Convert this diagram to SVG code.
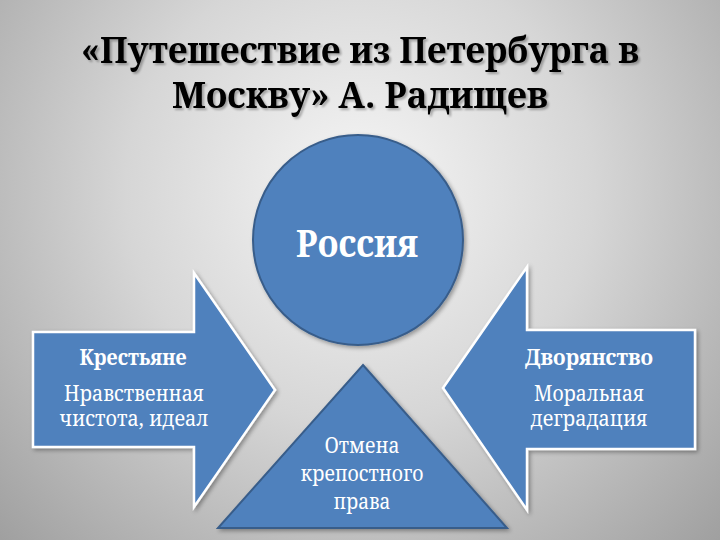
<svg xmlns="http://www.w3.org/2000/svg" width="720" height="540" viewBox="0 0 720 540">
<defs>
<radialGradient id="bg" cx="360" cy="190" r="520" gradientUnits="userSpaceOnUse">
<stop offset="0" stop-color="#f6f6f6"/>
<stop offset="0.45" stop-color="#d6d6d6"/>
<stop offset="1" stop-color="#9c9c9c"/>
</radialGradient>
<filter id="sh" x="-10%" y="-10%" width="130%" height="130%">
<feGaussianBlur in="SourceAlpha" stdDeviation="2"/>
<feOffset dx="2" dy="2"/>
<feComponentTransfer><feFuncA type="linear" slope="0.35"/></feComponentTransfer>
<feMerge><feMergeNode/><feMergeNode in="SourceGraphic"/></feMerge>
</filter>
<filter id="tsh" x="-5%" y="-20%" width="110%" height="140%">
<feGaussianBlur in="SourceAlpha" stdDeviation="1"/>
<feOffset dx="2" dy="2"/>
<feComponentTransfer><feFuncA type="linear" slope="0.3"/></feComponentTransfer>
<feMerge><feMergeNode/><feMergeNode in="SourceGraphic"/></feMerge>
</filter>
</defs>
<style>
.arrow{fill:#4f81bd;stroke:#ffffff;stroke-width:2.5;stroke-linejoin:miter}
.dark{fill:#4f81bd;stroke:#385d8a;stroke-width:2}
.t{fill:#ffffff;text-anchor:middle}
.title{font-weight:bold;font-size:36px;fill:#000000;text-anchor:middle}
.b{font-weight:bold;font-size:21px}
.r{font-size:21px}
</style>
<rect width="720" height="540" fill="url(#bg)"/>
<g id="title" filter="url(#tsh)" font-family="Noto Serif, Liberation Serif, DejaVu Serif, serif">
<text class="title" x="360" y="63" textLength="558" lengthAdjust="spacingAndGlyphs">«Путешествие из Петербурга в</text>
<text class="title" x="360" y="108" textLength="376" lengthAdjust="spacingAndGlyphs">Москву» А. Радищев</text>
</g>
<g id="connectors"></g>
<g id="russia" font-family="Noto Serif, Liberation Serif, DejaVu Serif, serif">
<circle class="dark" cx="358" cy="240" r="105" filter="url(#sh)"/>
<text class="t" x="357" y="257" font-size="38" font-weight="bold" textLength="122" lengthAdjust="spacingAndGlyphs">Россия</text>
</g>
<g id="peasants" font-family="Noto Serif, Liberation Serif, DejaVu Serif, serif">
<polygon class="arrow" points="33,332 194,332 194,273 275,390 194,507 194,447 33,447" filter="url(#sh)"/>
<text class="t b" x="133" y="365" textLength="107" lengthAdjust="spacingAndGlyphs">Крестьяне</text>
<text class="t r" x="134" y="401" textLength="140" lengthAdjust="spacingAndGlyphs">Нравственная</text>
<text class="t r" x="134" y="426" textLength="149" lengthAdjust="spacingAndGlyphs">чистота, идеал</text>
</g>
<g id="nobility" font-family="Noto Serif, Liberation Serif, DejaVu Serif, serif">
<polygon class="arrow" points="695,330 527,330 527,267 443,388 527,510 527,449 695,449" filter="url(#sh)"/>
<text class="t b" x="589" y="365" textLength="128" lengthAdjust="spacingAndGlyphs">Дворянство</text>
<text class="t r" x="589" y="401" textLength="110" lengthAdjust="spacingAndGlyphs">Моральная</text>
<text class="t r" x="589" y="426" textLength="117" lengthAdjust="spacingAndGlyphs">деградация</text>
</g>
<g id="abolition" font-family="Noto Serif, Liberation Serif, DejaVu Serif, serif">
<polygon class="dark" points="363,365 507,528 218,528" filter="url(#sh)"/>
<text class="t r" x="362" y="453" textLength="75" lengthAdjust="spacingAndGlyphs">Отмена</text>
<text class="t r" x="362" y="481" textLength="123" lengthAdjust="spacingAndGlyphs">крепостного</text>
<text class="t r" x="362" y="509" textLength="57" lengthAdjust="spacingAndGlyphs">права</text>
</g>
</svg>
